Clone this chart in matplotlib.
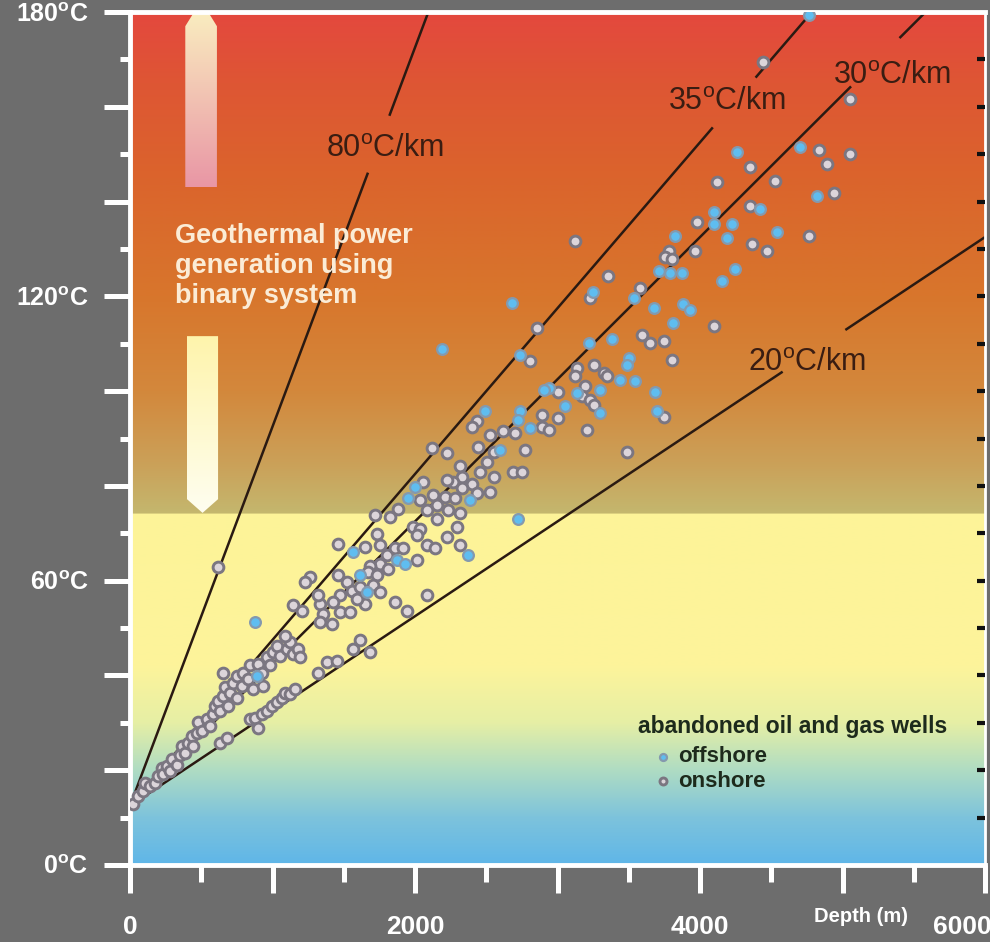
import numpy as np
import matplotlib
matplotlib.use("Agg")
import matplotlib.pyplot as plt
import matplotlib.transforms as mtransforms
from matplotlib.patches import Polygon

plt.rcParams['font.family'] = ['Liberation Sans', 'DejaVu Sans']
plt.rcParams['mathtext.fontset'] = 'custom'
plt.rcParams['mathtext.rm'] = 'Liberation Sans'
plt.rcParams['mathtext.bf'] = 'Liberation Sans:bold'

# --- well data: depth (m), temperature (deg C) ---
onshore_depth = [23, 59, 94, 105, 140, 176, 199, 222, 234, 257, 281, 293, 328, 351, 363, 386, 410, 433,
                 445, 468, 480, 503, 538, 562, 585, 597, 620, 632, 655, 667, 655, 690, 702, 725, 749, 749,
                 784, 796, 831, 842, 866, 901, 924, 936, 959, 983, 1006, 1030, 1053, 1100, 1123,
                 1147, 1182, 1193,
                 632, 679, 842, 878, 901, 924, 959, 995, 1030, 1065, 1088, 1123, 1158, 1322, 1381, 1451,
                 1568, 1615, 1685, 618,
                 2118, 2223, 2317, 2445, 2504, 2551, 2691, 2750, 2773, 2551, 2457, 2399, 2328, 2270, 2223,
                 2059, 2036, 2129, 2153, 2211, 2282, 2328, 2434, 2527, 2082, 2153, 2235, 2317, 1884, 1825,
                 1720, 1732, 1989, 2036, 2012, 2082, 2141, 2223, 2293, 2317, 1463, 1650, 1755, 1802, 1860,
                 1919, 2012, 1755, 1685, 1673, 1732, 1814, 1463, 1521, 1556, 1615, 1708, 1755, 1650, 1591,
                 1474, 1427, 1334, 1264, 1229, 1322, 1357, 1474, 1544, 1416, 1334, 1147, 1205, 1088, 1860,
                 1942, 2082,
                 3229, 2855, 2808, 3592, 3651, 3744, 3803, 3136, 3253, 3323, 3346, 3124, 3007, 3194, 3171,
                 3229, 3253, 3007, 2890, 2890, 2937, 3206, 3744, 3487, 2434, 2399, 2527, 2621, 2703,
                 4352, 4118, 4528, 4832, 4890, 5054, 4937, 4352, 3978, 4762, 4364, 4469, 3966, 3779, 3755,
                 3802, 3357, 3580, 4095, 5054, 3124, 4444]
onshore_temp = [12.8, 14.5, 15.6, 17.3, 16.6, 17.3, 18.7, 20.5, 19.1, 20.9, 19.8, 22.3, 21.2, 23.3, 25.1,
                23.7, 25.8, 27.2, 25.1, 27.9, 30.1, 28.3, 30.8, 29.3, 31.8, 33.6, 34.6, 32.5, 35.7, 37.5,
                40.6, 33.6, 36.4, 38.5, 35.3, 39.9, 37.8, 40.6, 39.2, 42.1, 37.1, 42.4, 40.6, 37.8, 43.8,
                42.1, 44.9, 46.3, 44.2, 45.6, 47.0, 44.5, 45.6, 43.8,
                25.8, 26.9, 30.8, 31.1, 29.0, 31.8, 32.5, 33.6, 34.3, 35.3, 36.4, 36.1, 37.1, 40.6, 42.8,
                43.1, 45.6, 47.4, 44.9, 62.9,
                88.0, 86.9, 84.1, 88.3, 85.1, 87.2, 83.0, 83.0, 87.6, 81.9, 83.0, 80.5, 81.9, 80.9, 81.2,
                80.9, 77.0, 78.1, 76.0, 77.7, 77.4, 79.5, 78.4, 78.8, 74.9, 73.1, 74.9, 74.2, 75.2, 73.5,
                73.8, 69.9, 71.4, 71.0, 69.6, 67.5, 66.8, 69.2, 71.4, 67.5, 67.8, 67.1, 67.5, 65.4, 66.8,
                66.8, 64.3, 63.6, 63.2, 61.8, 61.1, 62.5, 61.1, 59.7, 57.9, 58.6, 59.0, 57.6, 55.1, 56.2,
                56.9, 55.5, 55.1, 60.8, 59.7, 56.9, 53.0, 53.4, 53.4, 50.9, 51.2, 54.8, 53.7, 48.4, 55.5,
                53.7, 56.9,
                119.7, 113.3, 106.3, 111.9, 110.2, 110.5, 106.6, 104.9, 105.6, 103.8, 103.1, 103.1, 99.9,
                101.0, 98.9, 98.2, 97.1, 94.3, 95.0, 92.5, 91.8, 91.8, 94.6, 87.2, 93.6, 92.5, 90.8, 91.5,
                91.1,
                147.2, 144.1, 144.4, 150.8, 147.9, 150.1, 141.9, 139.1, 135.6, 132.8, 131.0, 129.6, 129.6,
                129.6, 128.2, 127.8, 124.3, 121.8, 113.7, 161.7, 131.7, 169.5]

offshore_depth = [889, 878,
                  2597, 2001, 1954, 2387, 2726, 2375, 1568, 1872, 1931, 1615, 1661,
                  2680, 2188, 2738, 3534, 3674, 3814, 3218, 3382, 3499, 3487, 3440, 3545, 3686, 2937,
                  2902, 3136, 3300, 3300, 3054, 2738, 2726, 2808, 3697, 2492,
                  4258, 4703, 4820, 4422, 4095, 4095, 4223, 3826, 4188, 4539, 3709, 3790, 3872, 4247,
                  4153, 3884, 3931, 3250, 4767]
offshore_temp = [39.9, 51.3,
                 87.6, 79.8, 77.4, 77.0, 73.1, 65.4, 66.1, 64.3, 63.6, 61.1, 57.6,
                 118.6, 108.8, 107.7, 119.7, 117.6, 114.4, 110.2, 110.9, 107.0, 105.6, 102.4, 102.1, 99.9,
                 100.6, 100.3, 99.6, 100.3, 95.3, 96.8, 95.7, 93.9, 92.2, 95.7, 95.7,
                 150.4, 151.5, 141.2, 138.4, 137.7, 135.2, 135.2, 132.8, 132.4, 133.5, 125.3, 125.0, 125.0,
                 125.7, 123.2, 118.3, 117.2, 121.0, 179.3]

# geothermal gradient reference lines (deg C / km) starting from surface temperature
gradients = [80, 35, 30, 20]
surface_temp = 12.5
label_gaps = [(1670, 1820), (4090, 4390), (5060, 5400), (4580, 5020)]   # depth range left open for labels
label_pos = [(1790, 151), (4190, 161), (5350, 166.5), (4750, 106)]

# ---------------------------------------------------------------------
fig = plt.figure(figsize=(9.9, 9.42), dpi=100, facecolor='#6d6d6d')
ax = fig.add_axes([130/990, 1 - 865/942, 855/990, 853/942])
ax.set_xlim(0, 6000)
ax.set_ylim(0, 180)

# background colour by temperature
boundary = 74.2
low_T = [0, 10, 20, 30, 42, boundary]
low_c = np.array([(95, 182, 232), (125, 195, 220), (175, 220, 195), (230, 239, 165), (253, 244, 155), (253, 243, 152)])
high_T = [boundary, 85, 100, 120, 145, 165, 180]
high_c = np.array([(196, 183, 110), (203, 160, 88), (211, 136, 60), (216, 118, 44), (219, 100, 44), (222, 86, 52), (228, 72, 62)])
tt = np.linspace(0, 180, 1801)
lo = np.stack([np.interp(tt, low_T, low_c[:, k]) for k in range(3)], axis=1)
hi = np.stack([np.interp(tt, high_T, high_c[:, k]) for k in range(3)], axis=1)
rgb = np.where((tt < boundary)[:, None], lo, hi) / 255.0
ax.imshow(rgb[:, None, :], extent=[0, 6000, 0, 180], origin='lower', aspect='auto',
          interpolation='bilinear', zorder=0)


def gradient_arrow(verts, c_bottom, c_top):
    poly = Polygon(verts, closed=True, facecolor='none', edgecolor='none', zorder=1)
    ax.add_patch(poly)
    v = np.array(verts)
    n = 200
    cols = np.linspace(np.array(c_bottom), np.array(c_top), n) / 255.0
    im = ax.imshow(cols[:, None, :], extent=[v[:, 0].min(), v[:, 0].max(), v[:, 1].min(), v[:, 1].max()],
                   origin='lower', aspect='auto', zorder=1, clip_on=True)
    im.set_clip_path(poly)


# up arrow (power generation) and down arrow
gradient_arrow([(388, 143), (610, 143), (610, 177), (540, 180.4), (458, 180.4), (388, 177)],
               (233, 150, 165), (250, 238, 192))
gradient_arrow([(400, 111.6), (618, 111.6), (618, 77.2), (509, 74.3), (400, 77.2)],
               (255, 254, 240), (254, 244, 172))

line_color = '#2a1a12'
for g, (g0, g1) in zip(gradients, label_gaps):
    d_end = min(6000, (180 - surface_temp) / g * 1000 + 60)
    for seg in (np.array([0, g0]), np.array([g1, d_end])):
        ax.plot(seg, surface_temp + g * seg / 1000, color=line_color, lw=1.8, zorder=2,
                solid_capstyle='butt')

for g, (lx, ly) in zip(gradients, label_pos):
    ax.text(lx, ly, f'{g}' + r'$^{\rm o}$' + 'C/km', fontsize=22, color='#3a1d12',
            ha='center', va='center', zorder=4)

ax.scatter(onshore_depth, onshore_temp, s=60, facecolor='#dcd5da', edgecolor='#7b7681',
           linewidth=2.1, zorder=3, label='onshore')
ax.scatter(offshore_depth, offshore_temp, s=60, facecolor='#5fbdf0', edgecolor='#8499ae',
           linewidth=1.6, zorder=3, label='offshore')

ax.text(316, 126.5, 'Geothermal power\ngeneration using\nbinary system', fontsize=19.5,
        fontweight='bold', color='#fbecd6', ha='left', va='center', linespacing=1.2, zorder=4)

# legend
ax.text(0.594, 0.162, 'abandoned oil and gas wells', transform=ax.transAxes, fontsize=16.5,
        fontweight='bold', color='#1d2a1c', ha='left', va='center', zorder=5)
h_on, l_on = ax.get_legend_handles_labels()
leg = ax.legend(h_on[::-1], l_on[::-1], loc='upper left', bbox_to_anchor=(0.613, 0.139),
                frameon=False, borderpad=0, borderaxespad=0, handlelength=0.8, handletextpad=0.3,
                labelspacing=0.15, markerscale=0.65, prop={'weight': 'bold', 'size': 16})
for t in leg.get_texts():
    t.set_color('#1d2a1c')

# axes styling
for side in ['left', 'bottom', 'top']:
    ax.spines[side].set_color('white')
    ax.spines[side].set_linewidth(3.5)
ax.spines['right'].set_color('white')
ax.spines['right'].set_linewidth(2)

ax.set_xticks(range(0, 6001, 1000))
ax.set_xticklabels(['0', '', '2000', '', '4000', '', '6000'])
ax.set_xticks(range(500, 6000, 1000), minor=True)
ax.set_yticks(range(0, 181, 20))
ax.set_yticklabels([(f'{v}' + r'$^{\mathbf{o}}$' + 'C') if v % 60 == 0 else '' for v in range(0, 181, 20)])
ax.set_yticks(range(10, 180, 20), minor=True)
ax.tick_params(axis='x', which='major', length=20, width=3.6, color='white', pad=16,
               labelsize=19, labelcolor='white')
ax.tick_params(axis='x', which='minor', length=12, width=3.6, color='white')
ax.tick_params(axis='y', which='major', length=19, width=3.6, color='white', pad=11,
               labelsize=18, labelcolor='white')
ax.tick_params(axis='y', which='minor', length=7, width=3.6, color='white')
for lab in ax.get_xticklabels() + ax.get_yticklabels():
    lab.set_fontweight('bold')
last = ax.get_xticklabels()[-1]
last.set_transform(last.get_transform() + mtransforms.ScaledTranslation(-0.23, 0, fig.dpi_scale_trans))

ax2 = ax.twinx()
ax2.set_ylim(0, 180)
ax2.set_yticks(range(10, 171, 10))
ax2.tick_params(axis='y', direction='in', length=6, width=3, color='#111111', labelright=False)
for s in ax2.spines.values():
    s.set_visible(False)

fig.text(861/990, 1 - 916/942, 'Depth (m)', fontsize=14.5, fontweight='bold', color='white',
         ha='center', va='center')

fig.savefig('out.png', dpi=100, facecolor=fig.get_facecolor())
